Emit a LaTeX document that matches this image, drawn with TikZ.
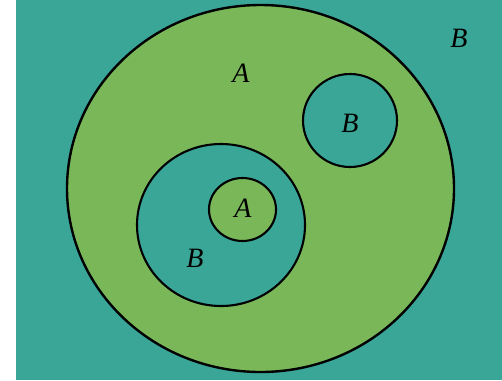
\documentclass[tikz,border=0pt]{standalone}
\usepackage{fontspec}
\setmainfont{Liberation Serif}
\usepackage{xcolor}
\usepackage{tikz}

\definecolor{setteal}{RGB}{58,166,152}
\definecolor{setgreen}{RGB}{122,183,88}
\tikzset{setlabel/.style={font=\fontsize{28}{28}\selectfont\itshape, inner sep=0pt}}

\begin{document}
\begin{tikzpicture}[x=1pt,y=-1pt]
  \useasboundingbox (0,0) rectangle (502,380);
  \fill[setteal] (16,0) rectangle (502,380);
  \filldraw[setgreen, draw=black, line width=2.4pt] (260.5,188.5) ellipse [x radius=193.5pt, y radius=183.5pt];
  \filldraw[setteal, draw=black, line width=2.1pt] (350,120.5) ellipse [x radius=47pt, y radius=46.5pt];
  \filldraw[setteal, draw=black, line width=2.1pt] (221,225) ellipse [x radius=84pt, y radius=81pt];
  \filldraw[setgreen, draw=black, line width=2.1pt] (242.5,209.5) ellipse [x radius=33.5pt, y radius=31.5pt];
  \node[setlabel] (outerB) at (459,38) {B};
  \node[setlabel] (bigA) at (241,73) {A};
  \node[setlabel] (rightB) at (350,123) {B};
  \node[setlabel] (innerA) at (243,208) {A};
  \node[setlabel] (ringB) at (195,258) {B};
\end{tikzpicture}
\end{document}
